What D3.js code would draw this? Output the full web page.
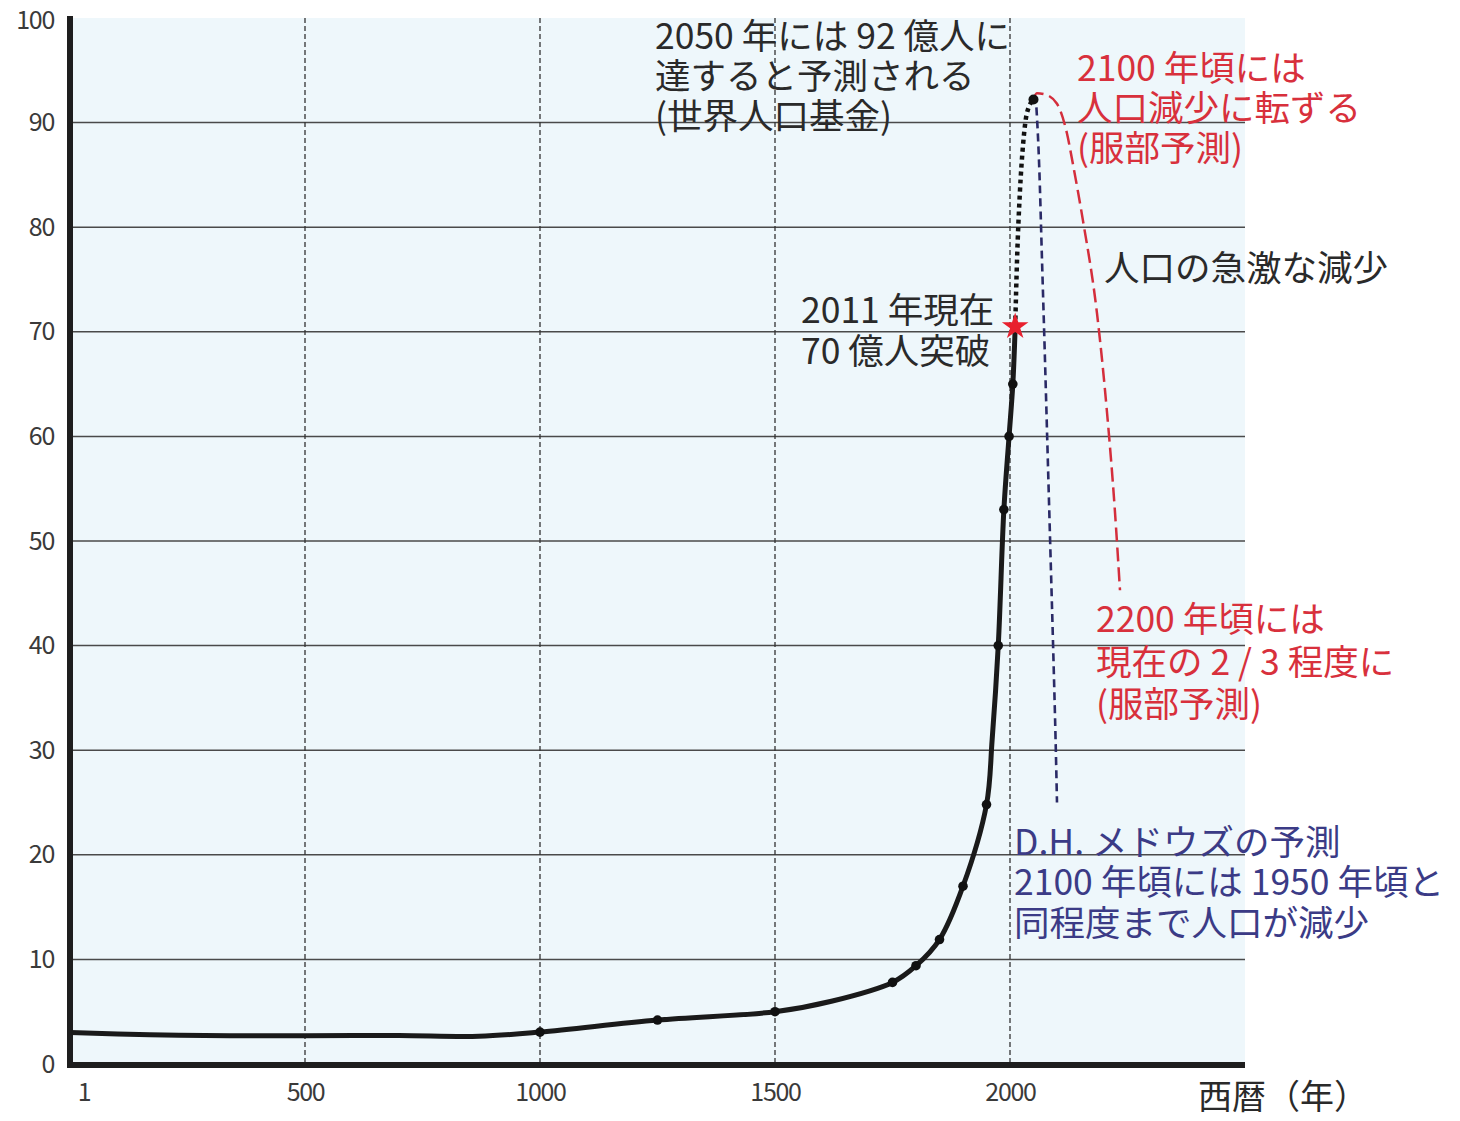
<!DOCTYPE html>
<html><head><meta charset="utf-8">
<script src="https://cdn.jsdelivr.net/npm/d3@7"></script>
<style>
html,body{margin:0;padding:0;background:#fff;}
svg{display:block;}
text{font-family:"Noto Sans CJK JP","Noto Sans",sans-serif;}
</style>
</head><body>
<svg id="c" width="1460" height="1121"></svg>
<script>
// ---- data (units: 億人) ----
const historyYears  = [1, 170, 340, 500, 700, 870, 1000, 1250, 1500, 1620, 1750, 1800, 1850, 1900, 1950, 1962, 1975, 1987, 1998, 2006, 2011];
const historyValues = [3.0, 2.8, 2.7, 2.7, 2.72, 2.65, 3.05, 4.2, 5.0, 6.0, 7.8, 9.4, 11.9, 17.0, 24.8, 31.0, 40, 53, 60, 65, 70.4];
const markerYears   = [1000, 1250, 1500, 1750, 1800, 1850, 1900, 1950, 1975, 1987, 1998, 2006];
const projYears     = [2011, 2015, 2021, 2028, 2036, 2050];
const projValues    = [70.4, 76.9, 83.3, 88.0, 90.9, 92.2];
const hattoriYears  = [2050, 2057, 2074, 2100, 2121, 2134, 2155, 2185, 2206, 2223, 2234];
const hattoriValues = [92.2, 92.8, 92.7, 91.8, 89.0, 86.0, 80.7, 71.8, 62.5, 53.0, 45.3];
const meadowsYears  = [2050, 2054, 2058, 2062, 2068, 2074, 2080, 2086, 2092, 2097, 2100];
const meadowsValues = [92.2, 92.4, 90.0, 86.0, 77.0, 68.0, 58.5, 49.0, 39.5, 31.0, 25.0];
const peakYear = 2050, peakValue = 92.2;
const nowYear = 2011, nowValue = 70.4;
const yTicks = [0, 10, 20, 30, 40, 50, 60, 70, 80, 90, 100];
const yGrid  = [10, 20, 30, 40, 50, 60, 70, 80, 90];
const xTicks = [1, 500, 1000, 1500, 2000];
const xGrid  = [500, 1000, 1500, 2000];
const xTitle = "西暦（年）";

// ---- layout ----
const svg = d3.select("#c");
const x = d3.scaleLinear().domain([0, 2500]).range([70, 1245]);
const y = d3.scaleLinear().domain([0, 100]).range([1064, 18]);

svg.append("rect").attr("x", x(0)).attr("y", y(100)).attr("width", x(2500) - x(0)).attr("height", y(0) - y(100)).attr("fill", "#eef7fb");

// grid
svg.append("g").selectAll("line").data(yGrid).join("line")
  .attr("x1", x(0)).attr("x2", x(2500)).attr("y1", d => y(d)).attr("y2", d => y(d))
  .attr("stroke", "#4a4a4a").attr("stroke-width", 1.5);
svg.append("g").selectAll("line").data(xGrid).join("line")
  .attr("x1", d => x(d)).attr("x2", d => x(d)).attr("y1", y(100)).attr("y2", y(0))
  .attr("stroke", "#333").attr("stroke-width", 1.3).attr("stroke-dasharray", "5,3");

// axes labels
const yAxis = svg.append("g").attr("transform", `translate(${x(0)},0)`)
  .call(d3.axisLeft(y).tickValues(yTicks).tickSize(0).tickPadding(16));
yAxis.select(".domain").remove();
yAxis.selectAll("text").attr("font-family", "'Noto Sans',sans-serif").attr("font-size", 25)
  .attr("letter-spacing", -1.3).attr("fill", "#3a3a3a").attr("dy", d => d === 100 ? "0.42em" : "0.32em");

const xAxis = svg.append("g").attr("transform", `translate(0,${y(0)})`)
  .call(d3.axisBottom(x).tickValues(xTicks).tickFormat(d3.format("d")).tickSize(0));
xAxis.select(".domain").remove();
xAxis.selectAll("text").attr("font-family", "'Noto Sans',sans-serif").attr("font-size", 25)
  .attr("letter-spacing", -1.3).attr("fill", "#3a3a3a")
  .attr("y", 28).attr("dy", "0.35em").attr("dx", d => d === 1 ? 13 : 0);

svg.append("text").attr("x", 1198).attr("y", 1097).attr("dy", "0.35em")
  .attr("font-size", 34).attr("fill", "#2a2a2a").text(xTitle);

// thick axis lines
svg.append("line").attr("x1", x(0)).attr("x2", x(0)).attr("y1", y(100) - 2).attr("y2", y(0) + 4)
  .attr("stroke", "#1e1e1e").attr("stroke-width", 6);
svg.append("line").attr("x1", x(0) - 3).attr("x2", x(2500)).attr("y1", y(0) + 1).attr("y2", y(0) + 1)
  .attr("stroke", "#1e1e1e").attr("stroke-width", 6);

// lines
const line = d3.line().x(d => x(d[0])).y(d => y(d[1])).curve(d3.curveMonotoneX);
const smooth = d3.line().x(d => x(d[0])).y(d => y(d[1])).curve(d3.curveCatmullRom.alpha(0.5));
const hist = historyYears.map((t, i) => [t, historyValues[i]]);
const proj = projYears.map((t, i) => [t, projValues[i]]);
const hat = hattoriYears.map((t, i) => [t, hattoriValues[i]]);
const mea = meadowsYears.map((t, i) => [t, meadowsValues[i]]);

svg.append("path").datum(hat).attr("d", line).attr("fill", "none")
  .attr("stroke", "#d42e3c").attr("stroke-width", 2.5).attr("stroke-dasharray", "14,6");
svg.append("path").datum(mea).attr("d", line).attr("fill", "none")
  .attr("stroke", "#2a2a66").attr("stroke-width", 2.6).attr("stroke-dasharray", "8,5");
svg.append("path").datum(proj).attr("d", line).attr("fill", "none")
  .attr("stroke", "#111").attr("stroke-width", 4.5).attr("stroke-dasharray", "4,4");
svg.append("path").datum(hist).attr("d", smooth).attr("fill", "none")
  .attr("stroke", "#1a1a1a").attr("stroke-width", 5).attr("stroke-linejoin", "round");

const histMap = new Map(hist);
svg.append("g").selectAll("circle").data(markerYears).join("circle")
  .attr("cx", d => x(d)).attr("cy", d => y(histMap.get(d))).attr("r", 4.8).attr("fill", "#111");
svg.append("circle").attr("cx", x(peakYear)).attr("cy", y(peakValue)).attr("r", 5).attr("fill", "#111");
svg.append("path").attr("d", d3.symbol(d3.symbolStar, 220)())
  .attr("transform", `translate(${x(nowYear)},${y(nowValue) - 1})`).attr("fill", "#e8202e");

// annotations
function note(lines, x0, ys, color) {
  const g = svg.append("g");
  lines.forEach((s, i) => {
    g.append("text").attr("x", x0).attr("y", ys[i]).attr("dy", "0.36em")
      .attr("font-size", 35.5).attr("fill", color).text(s);
  });
}
note(["2050 年には 92 億人に", "達すると予測される", "(世界人口基金)"], 655, [36, 76, 116], "#2a2a2a");
note(["2011 年現在", "70 億人突破"], 801, [310, 351], "#2a2a2a");
note(["2100 年頃には", "人口減少に転ずる", "(服部予測)"], 1077, [68, 108, 148], "#d8303c");
note(["人口の急激な減少"], 1104, [268], "#2a2a2a");
note(["2200 年頃には", "現在の 2 / 3 程度に", "(服部予測)"], 1096, [619, 662, 704], "#d8303c");
note(["D.H. メドウズの予測", "2100 年頃には 1950 年頃と", "同程度まで人口が減少"], 1014, [842, 882, 923], "#3b3b86");
</script>
</body></html>
